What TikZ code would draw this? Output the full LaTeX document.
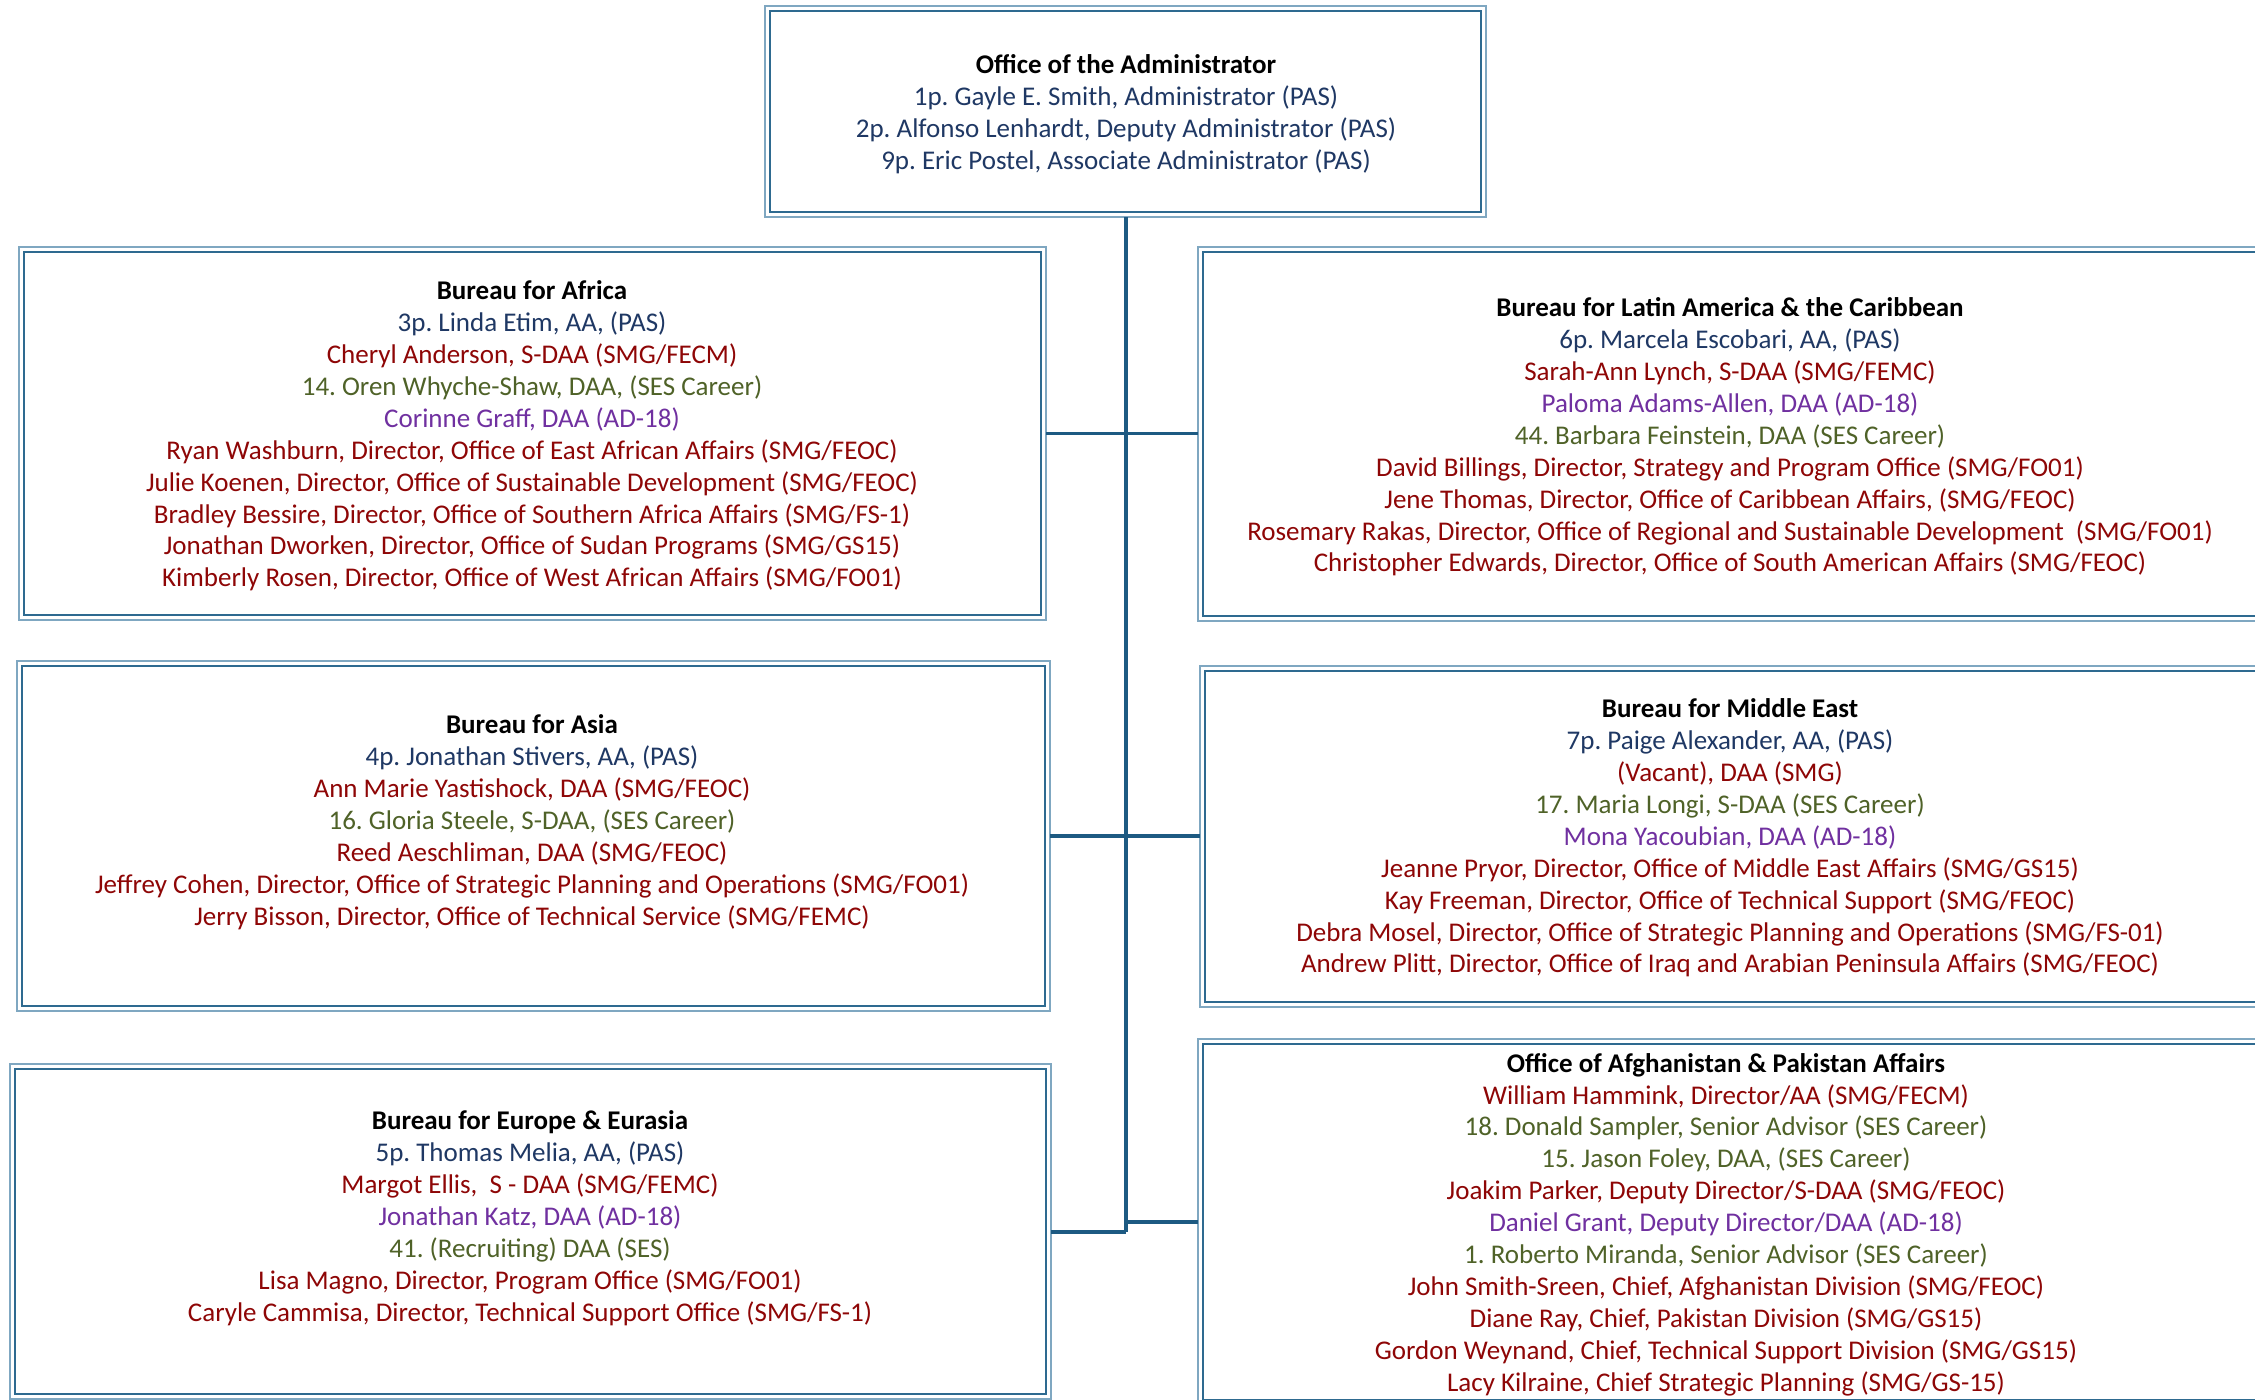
\documentclass[tikz,border=0pt]{standalone}
\usepackage{fontspec}
\setmainfont{Carlito}
\definecolor{navy}{HTML}{1F3864}
\definecolor{dred}{HTML}{8E0606}
\definecolor{olive}{HTML}{4F6228}
\definecolor{purp}{HTML}{7030A0}
\definecolor{boxout}{HTML}{7FA7C1}
\definecolor{boxin}{HTML}{2E6A90}
\definecolor{trunkc}{HTML}{1D5A82}
\newcommand{\nv}[1]{\textcolor{navy}{#1}}
\newcommand{\dr}[1]{\textcolor{dred}{#1}}
\newcommand{\ol}[1]{\textcolor{olive}{#1}}
\newcommand{\pu}[1]{\textcolor{purp}{#1}}
\tikzset{
  box/.style={draw=boxout, line width=1.6pt, inner sep=0pt, outer sep=0pt, fill=white},
  inbox/.style={draw=boxin, line width=1.6pt},
  txt/.style={align=center, font=\fontsize{27}{31.9}\selectfont\frenchspacing, inner sep=0pt},
  conn/.style={draw=trunkc, line width=3.5pt}
}
\begin{document}
\begin{tikzpicture}[x=1pt,y=-1pt]
\useasboundingbox[fill=white] (0,0) rectangle (2255,1400);
\begin{scope}
\clip (0,0) rectangle (2255,1400);
% boxes
\node[box, minimum width=721, minimum height=211] (top) at (1125.5,111.5) {};
\node[box, minimum width=1027, minimum height=373] (afr) at (532.5,433.5) {};
\node[box, minimum width=1064, minimum height=374] (lac) at (1730,434) {};
\node[box, minimum width=1033, minimum height=350] (asia) at (533.5,836) {};
\node[box, minimum width=1062, minimum height=341] (me) at (1731,836.5) {};
\node[box, minimum width=1041, minimum height=335] (eur) at (530.5,1231.5) {};
\node[box, minimum width=1064, minimum height=366] (afg) at (1730,1222) {};
\foreach \n in {top,afr,lac,asia,me,eur,afg}
  \draw[inbox] ([shift={(5pt,-5pt)}]\n.north west) rectangle ([shift={(-5pt,5pt)}]\n.south east);
% connectors
\coordinate (j1) at (1126,433.5);
\coordinate (j2) at (1126,836);
\coordinate (j3) at (1126,1222);
\coordinate (j4) at (1126,1232);
\draw[conn] (top.south -| j1) -- (j4);
\draw[conn] (afr.east |- j1) -- (j1) -- (lac.west |- j1);
\draw[conn] (asia.east |- j2) -- (j2) -- (me.west |- j2);
\draw[conn] (j3) -- (afg.west |- j3);
\draw[conn] (eur.east |- j4) -- (j4);
% texts
\node[txt] (topT) at (1126,114) {\textbf{Office of the Administrator}\\
\nv{1p. Gayle E. Smith, Administrator (PAS)}\\
\nv{2p. Alfonso Lenhardt, Deputy Administrator (PAS)}\\
\nv{9p. Eric Postel, Associate Administrator (PAS)}};
\node[txt] (afrT) at (532,436) {\textbf{Bureau for Africa}\\
\nv{3p. Linda Etim, AA, (PAS)}\\
\dr{Cheryl Anderson, S-DAA (SMG/FECM)}\\
\ol{14. Oren Whyche-Shaw, DAA, (SES Career)}\\
\pu{Corinne Graff, DAA (AD-18)}\\
\dr{Ryan Washburn, Director, Office of East African Affairs (SMG/FEOC)}\\
\dr{Julie Koenen, Director, Office of Sustainable Development (SMG/FEOC)}\\
\dr{Bradley Bessire, Director, Office of Southern Africa Affairs (SMG/FS-1)}\\
\dr{Jonathan Dworken, Director, Office of Sudan Programs (SMG/GS15)}\\
\dr{Kimberly Rosen, Director, Office of West African Affairs (SMG/FO01)}};
\node[txt] (lacT) at (1730,437) {\textbf{Bureau for Latin America \& the Caribbean}\\
\nv{6p. Marcela Escobari, AA, (PAS)}\\
\dr{Sarah-Ann Lynch, S-DAA (SMG/FEMC)}\\
\pu{Paloma Adams-Allen, DAA (AD-18)}\\
\ol{44. Barbara Feinstein, DAA (SES Career)}\\
\dr{David Billings, Director, Strategy and Program Office (SMG/FO01)}\\
\dr{Jene Thomas, Director, Office of Caribbean Affairs, (SMG/FEOC)}\\
\dr{Rosemary Rakas, Director, Office of Regional and Sustainable Development\ \ (SMG/FO01)}\\
\dr{Christopher Edwards, Director, Office of South American Affairs (SMG/FEOC)}};
\node[txt] (asiaT) at (532,822) {\textbf{Bureau for Asia}\\
\nv{4p. Jonathan Stivers, AA, (PAS)}\\
\dr{Ann Marie Yastishock, DAA (SMG/FEOC)}\\
\ol{16. Gloria Steele, S-DAA, (SES Career)}\\
\dr{Reed Aeschliman, DAA (SMG/FEOC)}\\
\dr{Jeffrey Cohen, Director, Office of Strategic Planning and Operations (SMG/FO01)}\\
\dr{Jerry Bisson, Director, Office of Technical Service (SMG/FEMC)}};
\node[txt] (meT) at (1730,838) {\textbf{Bureau for Middle East}\\
\nv{7p. Paige Alexander, AA, (PAS)}\\
\dr{(Vacant), DAA (SMG)}\\
\ol{17. Maria Longi, S-DAA (SES Career)}\\
\pu{Mona Yacoubian, DAA (AD-18)}\\
\dr{Jeanne Pryor, Director, Office of Middle East Affairs (SMG/GS15)}\\
\dr{Kay Freeman, Director, Office of Technical Support (SMG/FEOC)}\\
\dr{Debra Mosel, Director, Office of Strategic Planning and Operations (SMG/FS-01)}\\
\dr{Andrew Plitt, Director, Office of Iraq and Arabian Peninsula Affairs (SMG/FEOC)}};
\node[txt] (eurT) at (530,1218) {\textbf{Bureau for Europe \& Eurasia}\\
\nv{5p. Thomas Melia, AA, (PAS)}\\
\dr{Margot Ellis,\ \ S - DAA (SMG/FEMC)}\\
\pu{Jonathan Katz, DAA (AD-18)}\\
\ol{41. (Recruiting) DAA (SES)}\\
\dr{Lisa Magno, Director, Program Office (SMG/FO01)}\\
\dr{Caryle Cammisa, Director, Technical Support Office (SMG/FS-1)}};
\node[txt] (afgT) at (1726,1224.5) {\textbf{Office of Afghanistan \& Pakistan Affairs}\\
\dr{William Hammink, Director/AA (SMG/FECM)}\\
\ol{18. Donald Sampler, Senior Advisor (SES Career)}\\
\ol{15. Jason Foley, DAA, (SES Career)}\\
\dr{Joakim Parker, Deputy Director/S-DAA (SMG/FEOC)}\\
\pu{Daniel Grant, Deputy Director/DAA (AD-18)}\\
\ol{1. Roberto Miranda, Senior Advisor (SES Career)}\\
\dr{John Smith-Sreen, Chief, Afghanistan Division (SMG/FEOC)}\\
\dr{Diane Ray, Chief, Pakistan Division (SMG/GS15)}\\
\dr{Gordon Weynand, Chief, Technical Support Division (SMG/GS15)}\\
\dr{Lacy Kilraine, Chief Strategic Planning (SMG/GS-15)}};
\end{scope}
\end{tikzpicture}
\end{document}
